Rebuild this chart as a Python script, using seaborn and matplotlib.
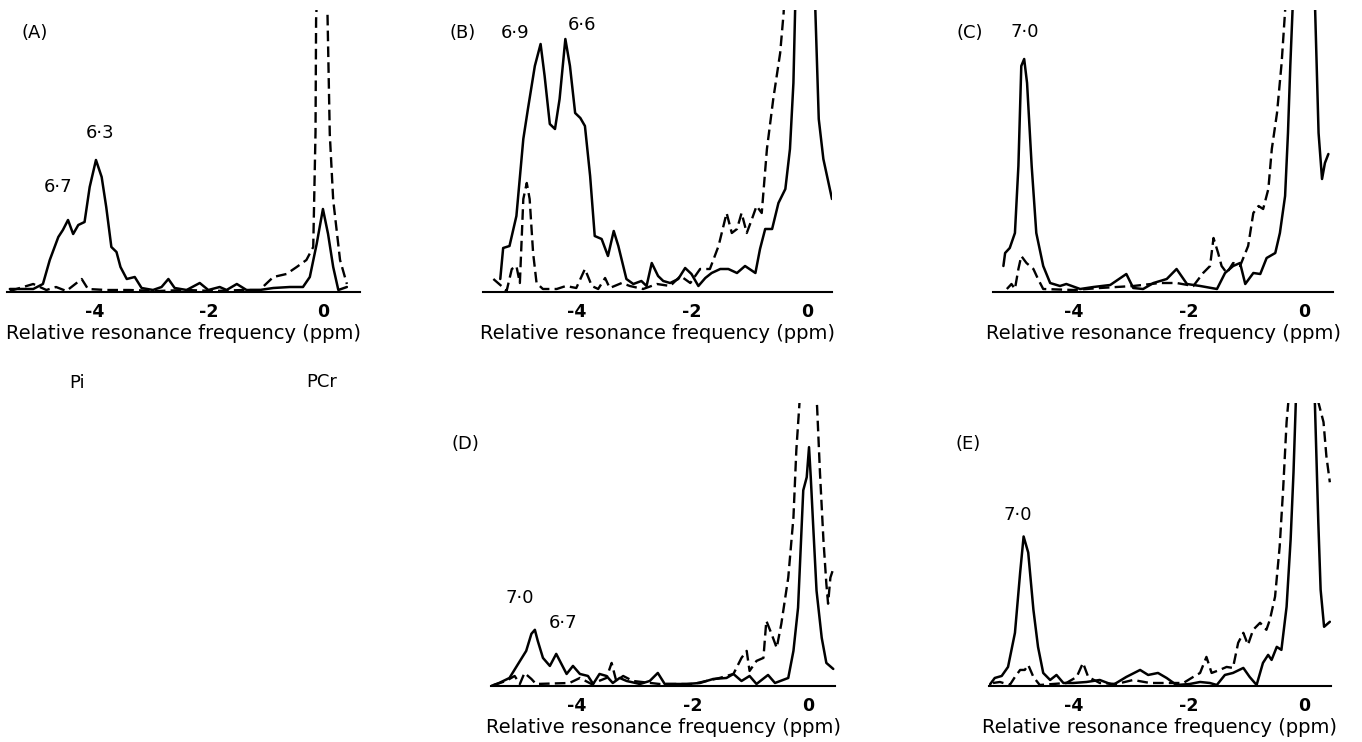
import numpy as np
import seaborn as sns
import matplotlib
matplotlib.use("Agg")
import matplotlib.pyplot as plt

# spectra: ppm positions and intensity (arbitrary, baseline = 0)
A_solid_ppm = [-5.49, -5.08, -4.91, -4.79, -4.64, -4.56, -4.47, -4.38, -4.29, -4.18, -4.09, -3.98, -3.88, -3.80,
               -3.71, -3.62, -3.55, -3.44, -3.30, -3.18, -2.98, -2.83, -2.71, -2.60, -2.39, -2.16, -2.01, -1.81,
               -1.69, -1.51, -1.34, -1.11, -0.87, -0.58, -0.35, -0.23, -0.11, 0.00, 0.09, 0.18, 0.27, 0.42]
A_solid_int = [3, 3, 8, 32, 55, 62, 72, 58, 67, 70, 105, 132, 115, 85,
               45, 40, 25, 13, 15, 4, 2, 5, 13, 4, 2, 9, 2, 5,
               2, 8, 2, 2, 4, 5, 5, 15, 48, 83, 58, 25, 2, 5]
A_dash_ppm = [-5.49, -5.08, -4.85, -4.68, -4.50, -4.23, -4.12, -3.80, -3.40, -2.90, -2.40, -1.90, -1.40, -1.11,
              -0.87, -0.64, -0.46, -0.29, -0.17, -0.13, -0.12, -0.02, 0.08, 0.12, 0.18, 0.30, 0.42]
A_dash_int = [1, 8, 2, 5, 1, 13, 3, 2, 2, 1, 2, 1, 2, 2,
              15, 18, 25, 32, 45, 160, 272, 420, 278, 158, 92, 32, 8]

B_solid_ppm = [-5.33, -5.28, -5.17, -5.05, -4.93, -4.85, -4.73, -4.63, -4.56, -4.47, -4.38, -4.30, -4.20, -4.12,
               -4.03, -3.94, -3.86, -3.77, -3.69, -3.57, -3.46, -3.36, -3.28, -3.14, -3.02, -2.88, -2.79, -2.70,
               -2.59, -2.50, -2.38, -2.24, -2.12, -2.01, -1.89, -1.77, -1.66, -1.51, -1.37, -1.22, -1.08, -0.90,
               -0.82, -0.73, -0.61, -0.50, -0.38, -0.30, -0.24, -0.21, -0.05, 0.14, 0.20, 0.28, 0.43]
B_solid_int = [13, 44, 46, 76, 153, 183, 226, 248, 216, 168, 163, 193, 253, 226,
               179, 174, 166, 116, 56, 53, 36, 61, 46, 13, 8, 11, 6, 29,
               16, 11, 9, 13, 24, 18, 6, 14, 19, 23, 23, 19, 26, 19,
               43, 63, 63, 89, 103, 143, 209, 283, 420, 283, 173, 133, 93]
B_dash_ppm = [-5.45, -5.31, -5.22, -5.13, -5.05, -4.99, -4.93, -4.87, -4.82, -4.76, -4.70, -4.59, -4.35, -4.19,
              -4.01, -3.86, -3.74, -3.63, -3.51, -3.43, -3.22, -3.08, -2.85, -2.61, -2.38, -2.20, -2.03, -1.86,
              -1.69, -1.54, -1.40, -1.31, -1.22, -1.14, -1.05, -0.96, -0.88, -0.79, -0.70, -0.59, -0.47, -0.41,
              -0.30]
B_dash_int = [13, 6, 1, 23, 26, 9, 93, 109, 93, 39, 9, 3, 3, 6,
              4, 23, 6, 3, 14, 4, 9, 6, 3, 8, 6, 16, 9, 23,
              23, 46, 79, 59, 63, 79, 59, 73, 86, 79, 143, 193, 239, 279,
              420]

C_solid_ppm = [-5.21, -5.18, -5.10, -5.01, -4.95, -4.90, -4.85, -4.80, -4.72, -4.64, -4.52, -4.40, -4.23, -4.12,
               -3.88, -3.65, -3.36, -3.08, -2.96, -2.79, -2.61, -2.38, -2.21, -2.03, -1.80, -1.51, -1.37, -1.23,
               -1.11, -1.02, -0.88, -0.76, -0.65, -0.50, -0.42, -0.33, -0.28, -0.24, -0.20, 0.00, 0.19, 0.25,
               0.31, 0.36, 0.42]
C_solid_int = [26, 39, 44, 59, 126, 226, 233, 209, 126, 59, 26, 9, 6, 8,
               3, 5, 7, 18, 4, 3, 9, 13, 23, 8, 6, 3, 19, 26,
               29, 8, 19, 18, 34, 39, 59, 96, 159, 226, 283, 420, 283, 159,
               113, 129, 138]
C_dash_ppm = [-5.15, -5.07, -5.01, -4.95, -4.90, -4.81, -4.69, -4.61, -4.52, -4.00, -3.54, -2.96, -2.50, -2.21,
              -1.92, -1.75, -1.63, -1.57, -1.49, -1.43, -1.34, -1.23, -1.11, -0.97, -0.88, -0.79, -0.71, -0.62,
              -0.56, -0.47, -0.39, -0.33, -0.25]
C_dash_int = [3, 8, 3, 23, 36, 29, 23, 13, 3, 2, 4, 6, 9, 9,
              6, 19, 26, 54, 39, 26, 19, 29, 26, 46, 79, 86, 83, 103,
              143, 179, 229, 281, 420]

D_solid_ppm = [-5.49, -5.35, -5.17, -5.02, -4.88, -4.79, -4.73, -4.68, -4.59, -4.47, -4.36, -4.27, -4.18, -4.07,
               -3.95, -3.81, -3.72, -3.61, -3.49, -3.38, -3.26, -3.14, -2.91, -2.74, -2.60, -2.48, -2.10, -1.87,
               -1.64, -1.41, -1.29, -1.15, -1.01, -0.89, -0.69, -0.57, -0.34, -0.25, -0.17, -0.08, -0.02, 0.02,
               0.05, 0.09, 0.15, 0.24, 0.32, 0.44]
D_solid_int = [0, 3, 8, 22, 35, 52, 56, 45, 28, 20, 32, 22, 12, 20,
               12, 10, 2, 12, 10, 3, 8, 5, 2, 5, 13, 2, 2, 3,
               7, 8, 12, 5, 10, 2, 11, 3, 8, 35, 78, 195, 208, 238,
               208, 162, 95, 48, 23, 17]
D_dash_ppm = [-5.44, -5.23, -5.08, -4.99, -4.91, -4.79, -4.71, -4.13, -3.95, -3.75, -3.49, -3.40, -3.32, -3.20,
              -3.03, -2.57, -1.99, -1.53, -1.29, -1.15, -1.06, -1.01, -0.89, -0.77, -0.72, -0.63, -0.54, -0.46,
              -0.34, -0.25, -0.20, -0.15, 0.00, 0.16, 0.21, 0.27, 0.32, 0.35, 0.39, 0.43]
D_dash_int = [1, 5, 10, 2, 13, 7, 2, 3, 8, 2, 8, 23, 5, 10,
              5, 2, 2, 8, 12, 28, 35, 15, 25, 28, 65, 52, 38, 62,
              108, 168, 235, 278, 420, 278, 212, 145, 102, 82, 108, 115]

E_solid_ppm = [-5.45, -5.36, -5.24, -5.13, -5.01, -4.92, -4.86, -4.78, -4.69, -4.61, -4.52, -4.40, -4.29, -4.17,
               -4.00, -3.77, -3.54, -3.31, -3.08, -2.84, -2.70, -2.53, -2.38, -2.21, -1.98, -1.80, -1.63, -1.51,
               -1.37, -1.23, -1.05, -0.94, -0.82, -0.71, -0.62, -0.56, -0.47, -0.39, -0.30, -0.23, -0.18, -0.14,
               0.02, 0.19, 0.25, 0.29, 0.35, 0.45]
E_solid_int = [1, 8, 10, 19, 53, 113, 149, 133, 76, 39, 13, 6, 11, 3,
               3, 4, 6, 1, 9, 16, 11, 13, 8, 1, 2, 4, 3, 1,
               11, 13, 18, 9, 1, 23, 31, 26, 39, 36, 79, 146, 213, 283,
               420, 283, 163, 96, 59, 64]
E_dash_ppm = [-5.39, -5.27, -5.10, -5.01, -4.92, -4.84, -4.78, -4.69, -4.58, -4.12, -3.94, -3.83, -3.74, -3.54,
              -3.25, -2.96, -2.67, -2.09, -1.92, -1.80, -1.69, -1.60, -1.46, -1.34, -1.23, -1.14, -1.05, -0.97,
              -0.88, -0.76, -0.65, -0.59, -0.50, -0.42, -0.36, -0.30, -0.27, 0.00, 0.25, 0.34, 0.39, 0.45]
E_dash_int = [3, 4, 1, 9, 16, 16, 21, 9, 1, 3, 9, 23, 9, 3,
              2, 6, 3, 3, 9, 13, 29, 13, 16, 19, 18, 43, 53, 41,
              56, 63, 56, 66, 89, 139, 196, 263, 283, 420, 283, 263, 229, 203]

panel_names = ["(A)", "(B)", "(C)", "(D)", "(E)"]
tick_values = [-4, -2, 0]
tick_labels = ["-4", "-2", "0"]
x_title = "Relative resonance frequency (ppm)"

# peak pH labels: (text, ppm, intensity)
A_peaks = [("6·3", -3.91, 159), ("6·7", -4.65, 105)]
B_peaks = [("6·9", -5.08, 259), ("6·6", -3.91, 267)]
C_peaks = [("7·0", -4.84, 260)]
D_peaks = [("7·0", -4.99, 88), ("6·7", -4.24, 63)]
E_peaks = [("7·0", -4.97, 170)]

sns.set_style("white")
plt.rcParams["font.family"] = ["DejaVu Sans"]
plt.rcParams["text.color"] = "black"
plt.rcParams["axes.labelcolor"] = "black"
plt.rcParams["xtick.color"] = "black"

W, H = 1362, 742
fig = plt.figure(figsize=(W / 100, H / 100), dpi=100)

# layout in pixels: left, right, top, baseline, xlim
layout = {
    "(A)": (7, 360, 10, 292, (-5.54, 0.65)),
    "(B)": (483, 832, 10, 292, (-5.63, 0.43)),
    "(C)": (993, 1333, 10, 292, (-5.39, 0.50)),
    "(D)": (491, 835, 403, 686, (-5.49, 0.47)),
    "(E)": (989, 1331, 403, 686, (-5.46, 0.47)),
}
label_pos = {"(A)": (-5.05, 259), "(B)": (-5.98, 259), "(C)": (-5.79, 259),
             "(D)": (-5.94, 241), "(E)": (-5.82, 241)}

series = {
    "(A)": (A_solid_ppm, A_solid_int, A_dash_ppm, A_dash_int, A_peaks),
    "(B)": (B_solid_ppm, B_solid_int, B_dash_ppm, B_dash_int, B_peaks),
    "(C)": (C_solid_ppm, C_solid_int, C_dash_ppm, C_dash_int, C_peaks),
    "(D)": (D_solid_ppm, D_solid_int, D_dash_ppm, D_dash_int, D_peaks),
    "(E)": (E_solid_ppm, E_solid_int, E_dash_ppm, E_dash_int, E_peaks),
}

for name in panel_names:
    l, r, t, b, xl = layout[name]
    ax = fig.add_axes([l / W, 1 - b / H, (r - l) / W, (b - t) / H])
    sp, si, dp, di, peaks = series[name]
    sns.lineplot(x=sp, y=si, ax=ax, color="black", lw=1.8, sort=False, estimator=None,
                 solid_joinstyle="round")
    sns.lineplot(x=dp, y=di, ax=ax, color="black", lw=1.7, sort=False, estimator=None,
                 linestyle=(0, (4.5, 2.2)))
    ax.set_xlim(*xl)
    ax.set_ylim(0, 282)
    for s in ["left", "top", "right"]:
        ax.spines[s].set_visible(False)
    ax.spines["bottom"].set_color("black")
    ax.spines["bottom"].set_linewidth(1.5)
    ax.set_yticks([])
    ax.set_xticks(tick_values)
    ax.set_xticklabels(tick_labels, fontsize=12.5, fontweight="bold")
    ax.tick_params(axis="x", length=0, pad=8)
    ax.set_xlabel(x_title, fontsize=14, labelpad=2)
    ax.set_ylabel("")
    px, py = label_pos[name]
    ax.text(px, py, name, fontsize=13, ha="center", va="center")
    for txt, x, y in peaks:
        ax.text(x, y, txt, fontsize=13, ha="center", va="center")
    if name == "(A)":
        ax.text(-4.32, -91, "Pi", fontsize=13, ha="center", va="center")
        ax.text(-0.02, -90, "PCr", fontsize=13, ha="center", va="center")

fig.savefig("out.png", dpi=100, facecolor="white")
